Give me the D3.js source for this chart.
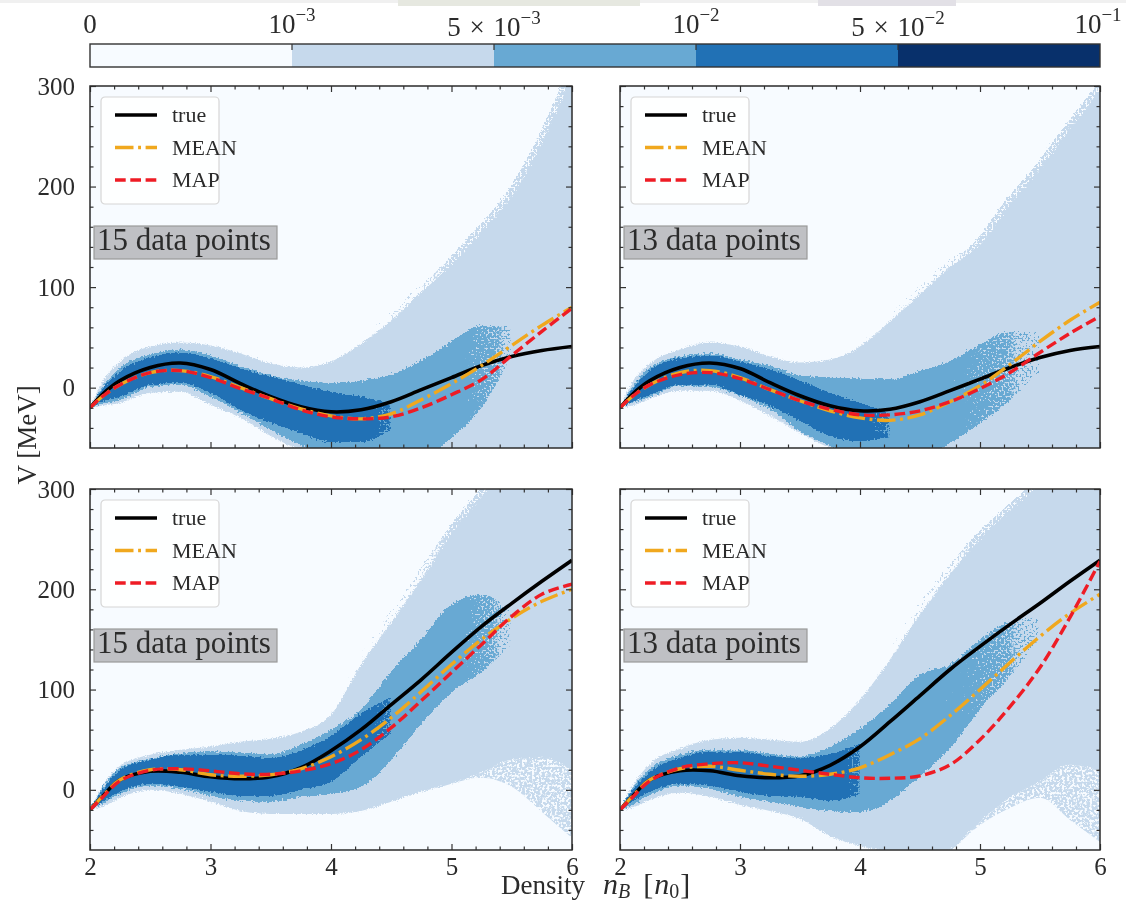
<!DOCTYPE html>
<html>
<head>
<meta charset="utf-8">
<script src="https://cdn.jsdelivr.net/npm/d3@7"></script>
<style>
  html, body { margin: 0; padding: 0; background: #fff; }
  svg { display: block; filter: blur(0.5px); }
  text { font-family: "Liberation Serif", serif; fill: #2b2b2b; }
</style>
</head>
<body>
<script>
'use strict';

const densityGrid = [2, 2.1, 2.25, 2.5, 2.75, 3, 3.25, 3.5, 3.75, 4, 4.25, 4.5, 4.75, 5, 5.25, 5.5, 5.75, 6];
const xMajor = [2, 3, 4, 5, 6];
const yMajor = [0, 100, 200, 300];
const xMinor = d3.range(2, 6.01, 0.2).map(v => +v.toFixed(1)).filter(v => !xMajor.includes(v));
const yMinor = d3.range(-40, 300, 20).filter(v => !yMajor.includes(v));

const levelColors = ['#f7fbff', '#c6d9ec', '#68a9d3', '#2171b5', '#08306b'];

// upper left, 15 data points
const tlTrue = [-20, -7, 7, 20, 24.5, 18, 4, -9, -19, -24, -22, -14, -2, 10, 22, 31, 37, 41];
const tlMean = [-20, -9, 3, 15, 17, 11, 0, -11, -21, -28, -31, -26, -12, 4, 22, 42, 62, 80];
const tlMap = [-20, -9, 3, 15, 17, 10, -1, -11, -22, -29, -31, -29, -20, -7, 8, 32, 56, 79];
const tlLightTop = [-20, 5, 26, 41, 45, 42, 34, 24, 20, 26, 44, 67, 95, 122, 155, 190, 243, 330];
const tlLightLow = [-20, -18, -15, -5, -4, -17, -30, -48, -62, -70, -70, -70, -70, -70, -70, -70, -70, -70];
const tlMidTop = [-20, 0, 20, 33, 38, 32, 21, 12, 7, 5, 7, 13, 27, 46, 62, 60, null, null];
const tlMidLow = [-20, -16, -12, 1, 3, -9, -25, -42, -57, -70, -70, -70, -70, -50, -20, 30, null, null];
const tlDarkTop = [-20, -2, 16, 30, 35, 29, 19, 11, 3, -4, -9, -15, null, null, null, null, null, null];
const tlDarkLow = [-20, -14, -9, 3, 5, -5, -22, -35, -45, -54, -54, -42, null, null, null, null, null, null];

// upper right, 13 data points
const trTrue = [-20, -7, 7, 20, 24.5, 19, 5, -8, -18, -23, -21.5, -14, -3, 8.5, 20, 30, 37, 41];
const trMean = [-20, -9, 3, 15, 17, 10, -2, -13, -23, -30, -32.5, -27, -14, 2, 23, 46, 67, 85];
const trMap = [-20, -9, 3, 13, 15, 9, -2, -13, -21.5, -27, -27, -23, -14, -1, 15, 35, 54, 71];
const trLightTop = [-20, 5, 24, 38, 45, 41, 31, 25, 28, 41, 66, 93, 120, 142, 182, 217, 257, 305];
const trLightLow = [-20, -18, -11, -3, -3, -13, -28, -45, -60, -70, -70, -70, -70, -70, -70, -70, -70, -70];
const trMidTop = [-20, 0, 20, 31, 34, 28, 21.5, 12, 10, 9, 8, 16.5, 26.5, 43, 56, 55, null, null];
const trMidLow = [-20, -15, -9, 2, 1, -8, -21.5, -43, -58, -70, -70, -70, -55, -36, -13, 15, null, null];
const trDarkTop = [-20, -2, 17, 29, 32, 26, 18, 7, -5, -15, -25, null, null, null, null, null, null, null];
const trDarkLow = [-20, -14, -7, 3, 3, -7, -18, -33, -48, -53, -50, null, null, null, null, null, null, null];

// lower left, 15 data points
const blTrue = [-20, -7, 10, 18.5, 17.5, 13, 11, 13, 22, 39, 60, 85, 110, 137, 163, 186, 208, 229];
const blMean = [-20, -7, 10, 20, 20, 15, 13.5, 15, 21, 33, 50, 72, 98, 125, 150, 171, 188, 200];
const blMap = [-20, -8, 9, 19.5, 21, 19, 16, 15.5, 19, 26, 40, 62, 89, 117, 145, 173, 195, 205];
const blLightTop = [-20, 3, 24, 35, 40, 43, 48, 51, 58, 75, 125, 167, 210, 255, 292, 330, 370, 410];
const blLightLow = [-20, -17, -8, 0, -4, -12, -21, -24, -24, -24, -21, -12, -2, 6, 17, 30, 32, 15];
const blSparseLow = [null, null, null, null, null, null, null, null, null, null, null, null, null, 6, 12, 3, -22, -55];
const blMidTop = [-20, 1, 22, 31, 36, 38.5, 37, 35.5, 45, 60, 80, 118, 150, 185, 195, 178, null, null];
const blMidLow = [-20, -14, -4, 4, 1, -6, -11, -12, -7, -4, 3, 30, 66, 97, 117, 145, null, null];
const blDarkTop = [-20, -1, 20, 30, 35, 35, 34, 32, 39, 54, 76, 93, null, null, null, null, null, null];
const blDarkLow = [-20, -12, -2, 6, 3, -2, -6, -6, 0, 8, 33, 56, null, null, null, null, null, null];

// lower right, 13 data points
const brTrue = [-20, -7, 10, 19, 19, 14, 12, 14, 24.5, 43, 68, 94, 120, 143, 165, 186, 208, 229];
const brMean = [-20, -7, 10, 21, 23.5, 19.5, 15.5, 13.5, 15.5, 22, 35, 51, 74, 100, 127, 153, 176, 195];
const brMap = [-20, -8, 9, 22, 26, 27, 23.5, 19.5, 15.5, 12, 11.5, 14, 25, 50, 83, 122, 172, 228];
const brLightTop = [-20, 3, 26, 41, 50, 52, 50, 48, 61, 90, 130, 175, 215, 250, 278, 305, 340, 380];
const brLightLow = [-20, -18, -10, -3, -7, -15, -21, -29, -46, -56, -62, -70, -60, -32, -8, 8, 25, 15];
const brSparseLow = [null, null, null, null, null, null, null, null, null, null, null, null, -62, -35, -18, -8, -30, -58];
const brMidTop = [-20, 1, 21, 35, 40, 40, 36, 33, 43, 61, 85, 115, 125, 150, 168, 172, null, null];
const brMidLow = [-20, -15, -5, 4, 1, -7, -12, -17, -21, -22, -11, 14, 41, 80, 112, 150, null, null];
const brDarkTop = [-20, -1, 18, 32, 38, 38, 33.5, 32, 36, 46, null, null, null, null, null, null, null, null];
const brDarkLow = [-20, -12, -2, 6, 4, -2, -6, -7, -11, -5, null, null, null, null, null, null, null, null];

const legendNames = ['true', 'MEAN', 'MAP'];
const lineColors = ['#000000', '#f0a81e', '#ee1c25'];
const lineWidths = [3.6, 3.4, 3.4];
const lineDashes = [null, '18.5,4.6,2.9,4.6', '10.7,4.6'];

const svg = d3.select('body').append('svg').attr('width', 1126).attr('height', 903);
const defs = svg.append('defs');

function newFilter(id) {
  return defs.append('filter').attr('id', id)
    .attr('x', '-3%').attr('y', '-3%').attr('width', '106%').attr('height', '106%')
    .attr('color-interpolation-filters', 'sRGB');
}

function addGrain(id, scale, seed) {
  let f = newFilter(id);
  f.append('feTurbulence').attr('type', 'fractalNoise').attr('baseFrequency', 0.8)
    .attr('numOctaves', 1).attr('seed', seed).attr('result', 'noise');
  f.append('feDisplacementMap').attr('in', 'SourceGraphic').attr('in2', 'noise')
    .attr('scale', scale).attr('xChannelSelector', 'R').attr('yChannelSelector', 'G');
}
addGrain('grainLight', 5, 3);

// holes come from thresholded noise
function addSpeckle(id, freq, gain, offset, seed) {
  let f = newFilter(id);
  f.append('feTurbulence').attr('type', 'fractalNoise').attr('baseFrequency', freq)
    .attr('numOctaves', 2).attr('seed', seed).attr('result', 'noise');
  f.append('feColorMatrix').attr('in', 'noise').attr('type', 'matrix')
    .attr('values', '0 0 0 0 0  0 0 0 0 0  0 0 0 0 0  ' + gain + ' 0 0 0 ' + offset).attr('result', 'mask');
  f.append('feComposite').attr('in', 'SourceGraphic').attr('in2', 'mask').attr('operator', 'in');
}
addSpeckle('speckleLight', 0.4, 9, -3.6, 5);

// the fill's opacity sets how much of the level survives the noise threshold
function addFade(id, color, scale, seed) {
  let f = newFilter(id);
  f.append('feTurbulence').attr('type', 'fractalNoise').attr('baseFrequency', 0.5)
    .attr('numOctaves', 2).attr('seed', seed).attr('result', 'noise');
  f.append('feDisplacementMap').attr('in', 'SourceGraphic').attr('in2', 'noise')
    .attr('scale', scale).attr('xChannelSelector', 'R').attr('yChannelSelector', 'G').attr('result', 'moved');
  f.append('feColorMatrix').attr('in', 'noise').attr('type', 'matrix')
    .attr('values', '0 0 0 0 0  0 0 0 0 0  0 0 0 0 0  1 0 0 0 0').attr('result', 'noiseAlpha');
  f.append('feComposite').attr('in', 'moved').attr('in2', 'noiseAlpha').attr('operator', 'arithmetic')
    .attr('k1', 0).attr('k2', 1).attr('k3', 1).attr('k4', 0).attr('result', 'sum');
  f.append('feComponentTransfer').attr('in', 'sum').attr('result', 'mask')
    .append('feFuncA').attr('type', 'linear').attr('slope', 25).attr('intercept', -23.75);
  f.append('feFlood').attr('flood-color', color).attr('result', 'paint');
  f.append('feComposite').attr('in', 'paint').attr('in2', 'mask').attr('operator', 'in');
}
addFade('fadeFringe', levelColors[1], 3, 13);
addFade('fadeMid', levelColors[2], 6, 7);
addFade('fadeDark', levelColors[3], 4, 11);

function addGradient(id, x0, x1, firstOpacity, lastOpacity) {
  let grad = defs.append('linearGradient').attr('id', id)
    .attr('gradientUnits', 'userSpaceOnUse')
    .attr('x1', x0).attr('x2', x1).attr('y1', 0).attr('y2', 0);
  grad.append('stop').attr('offset', 0).attr('stop-color', '#000').attr('stop-opacity', firstOpacity);
  grad.append('stop').attr('offset', 1).attr('stop-color', '#000').attr('stop-opacity', lastOpacity);
}

// scan residue along the top edge of the page
svg.append('rect').attr('width', 1126).attr('height', 3).attr('fill', '#f0f0f0');
svg.append('rect').attr('x', 398).attr('width', 242).attr('height', 6).attr('fill', '#e6e8e0');
svg.append('rect').attr('x', 818).attr('width', 138).attr('height', 6).attr('fill', '#e2e0e6');

drawColorbar();

const panels = [
  { left: 90, right: 572, top: 86, bottom: 448, count: '15 data points', leftAxis: true, bottomAxis: false,
    midFade: [4.8, 5.6], darkFade: [4.2, 4.55],
    tr: tlTrue, mean: tlMean, map: tlMap, lt: tlLightTop, ll: tlLightLow, mt: tlMidTop, ml: tlMidLow, dt: tlDarkTop, dl: tlDarkLow },
  { left: 620, right: 1100, top: 86, bottom: 448, count: '13 data points', leftAxis: false, bottomAxis: false,
    midFade: [4.4, 5.55], darkFade: [3.95, 4.3],
    tr: trTrue, mean: trMean, map: trMap, lt: trLightTop, ll: trLightLow, mt: trMidTop, ml: trMidLow, dt: trDarkTop, dl: trDarkLow },
  { left: 90, right: 572, top: 489, bottom: 850, count: '15 data points', leftAxis: true, bottomAxis: true, sparse: blSparseLow,
    midFade: [4.8, 5.55], darkFade: [4.2, 4.55],
    tr: blTrue, mean: blMean, map: blMap, lt: blLightTop, ll: blLightLow, mt: blMidTop, ml: blMidLow, dt: blDarkTop, dl: blDarkLow },
  { left: 620, right: 1100, top: 489, bottom: 850, count: '13 data points', leftAxis: false, bottomAxis: true, sparse: brSparseLow,
    midFade: [4.4, 5.55], darkFade: [3.75, 4.05],
    tr: brTrue, mean: brMean, map: brMap, lt: brLightTop, ll: brLightLow, mt: brMidTop, ml: brMidLow, dt: brDarkTop, dl: brDarkLow }
];
panels.forEach(drawPanel);

// shared axis titles
let xTitle = svg.append('text').attr('x', 501).attr('y', 894).style('font-size', '27px');
xTitle.append('tspan').text('Density');
xTitle.append('tspan').style('font-style', 'italic').style('font-size', '30px').attr('dx', 18).text('n');
xTitle.append('tspan').style('font-style', 'italic').style('font-size', '20px').attr('dy', 4).text('B');
xTitle.append('tspan').attr('dy', -4).attr('dx', 13).style('font-size', '30px').text('[');
xTitle.append('tspan').style('font-style', 'italic').style('font-size', '30px').attr('dx', 1).text('n');
xTitle.append('tspan').style('font-size', '20px').attr('dy', 4).text('0');
xTitle.append('tspan').attr('dy', -4).attr('dx', 1).style('font-size', '30px').text(']');

svg.append('text')
  .attr('transform', 'translate(36, 435)rotate(-90)')
  .attr('text-anchor', 'middle')
  .style('font-size', '27px')
  .text('V [MeV]');

function drawColorbar() {
  let boundaries = [0, 1, 2, 3, 4, 5];
  let x = d3.scaleLinear().domain([0, 5]).range([90, 1100]);
  let g = svg.append('g');
  g.selectAll('rect').data(levelColors).enter().append('rect')
    .attr('x', (d, i) => x(i)).attr('y', 44)
    .attr('width', (d, i) => x(i + 1) - x(i)).attr('height', 23)
    .attr('fill', d => d);
  g.append('rect').attr('x', 90).attr('y', 44).attr('width', 1010).attr('height', 23)
    .attr('fill', 'none').attr('stroke', '#333').attr('stroke-width', 1.4);
  g.selectAll('line').data(boundaries.slice(1, 5)).enter().append('line')
    .attr('x1', d => x(d)).attr('x2', d => x(d)).attr('y1', 44).attr('y2', 50)
    .attr('stroke', '#333').attr('stroke-width', 1.2);

  let labels = [
    { base: '0', baseline: 33 },
    { base: '10', exp: '\u22123', baseline: 33 },
    { base: '5 \u00d7 10', exp: '\u22123', baseline: 35.5 },
    { base: '10', exp: '\u22122', baseline: 33 },
    { base: '5 \u00d7 10', exp: '\u22122', baseline: 35.5 },
    { base: '10', exp: '\u22121', baseline: 33 }
  ];
  labels.forEach((l, i) => {
    let t = svg.append('text').attr('x', Math.min(x(boundaries[i]), 1098)).attr('y', l.baseline)
      .attr('text-anchor', 'middle').style('font-size', '27px').style('word-spacing', '2px');
    t.append('tspan').text(l.base);
    if (l.exp) {
      t.append('tspan').attr('dy', -12).style('font-size', '19px').text(l.exp);
    }
  });
}

function drawPanel(p, idx) {
  let x = d3.scaleLinear().domain([2, 6]).range([p.left, p.right]);
  let y = d3.scaleLinear().domain([-60, 300]).range([p.bottom, p.top]);
  let last = densityGrid.length - 1;
  let xAt = i => i === last ? x(densityGrid[i]) + 8 : x(densityGrid[i]);
  let idxs = d3.range(densityGrid.length);

  let clipId = 'clip' + idx;
  defs.append('clipPath').attr('id', clipId).append('rect')
    .attr('x', p.left).attr('y', p.top)
    .attr('width', p.right - p.left).attr('height', p.bottom - p.top);
  addGradient('fringeOpacity' + idx, x(3.8), x(5), 0, 0.5);
  addGradient('midOpacity' + idx, x(p.midFade[0]), x(p.midFade[1]), 1, 0.3);
  addGradient('darkOpacity' + idx, x(p.darkFade[0]), x(p.darkFade[1]), 1, 0.35);

  let g = svg.append('g');
  let plot = g.append('g').attr('clip-path', 'url(#' + clipId + ')');
  plot.append('rect').attr('x', p.left).attr('y', p.top)
    .attr('width', p.right - p.left).attr('height', p.bottom - p.top)
    .attr('fill', levelColors[0]);

  function bandPath(top, low) {
    return d3.area()
      .defined(i => top[i] !== null && low[i] !== null)
      .x(xAt)
      .y0(i => y(low[i]))
      .y1(i => y(top[i]))
      .curve(d3.curveMonotoneX)(idxs);
  }

  // sparse upper-left fringe of the light level, thickens with density
  plot.append('g').attr('transform', 'translate(-6,-3)')
    .append('path').attr('d', bandPath(p.lt, p.ll))
    .attr('fill', 'url(#fringeOpacity' + idx + ')').attr('filter', 'url(#fadeFringe)');
  if (p.sparse) {
    plot.append('path').attr('d', bandPath(p.ll, p.sparse))
      .attr('fill', levelColors[1]).attr('filter', 'url(#speckleLight)');
  }
  plot.append('path').attr('d', bandPath(p.lt, p.ll))
    .attr('fill', levelColors[1]).attr('filter', 'url(#grainLight)');

  plot.append('path').attr('d', bandPath(p.mt, p.ml))
    .attr('fill', 'url(#midOpacity' + idx + ')').attr('filter', 'url(#fadeMid)');
  plot.append('path').attr('d', bandPath(p.dt, p.dl))
    .attr('fill', 'url(#darkOpacity' + idx + ')').attr('filter', 'url(#fadeDark)');

  [p.tr, p.mean, p.map].forEach((series, k) => {
    let line = d3.line()
      .x(i => x(densityGrid[i]))
      .y(i => y(series[i]))
      .curve(d3.curveCatmullRom.alpha(0.5));
    plot.append('path').attr('d', line(idxs))
      .attr('fill', 'none')
      .attr('stroke', lineColors[k])
      .attr('stroke-width', lineWidths[k])
      .attr('stroke-dasharray', lineDashes[k]);
  });

  // inward ticks on all four sides
  drawTicks(g, d3.axisBottom(x), xMajor, 6, [0, p.bottom]);
  drawTicks(g, d3.axisBottom(x), xMinor, 3.5, [0, p.bottom]);
  drawTicks(g, d3.axisTop(x), xMajor, 6, [0, p.top]);
  drawTicks(g, d3.axisTop(x), xMinor, 3.5, [0, p.top]);
  drawTicks(g, d3.axisLeft(y), yMajor, 6, [p.left, 0]);
  drawTicks(g, d3.axisLeft(y), yMinor, 3.5, [p.left, 0]);
  drawTicks(g, d3.axisRight(y), yMajor, 6, [p.right, 0]);
  drawTicks(g, d3.axisRight(y), yMinor, 3.5, [p.right, 0]);

  g.append('rect').attr('x', p.left).attr('y', p.top)
    .attr('width', p.right - p.left).attr('height', p.bottom - p.top)
    .attr('fill', 'none').attr('stroke', '#2b2b2b').attr('stroke-width', 1.5);

  if (p.bottomAxis) {
    let ax = g.append('g').attr('transform', 'translate(0,' + p.bottom + ')')
      .call(d3.axisBottom(x).tickValues(xMajor).tickSize(0).tickPadding(7).tickFormat(d3.format('d')));
    ax.select('.domain').remove();
    ax.selectAll('text').style('font-size', '25px').style('font-family', null).attr('fill', null);
  }
  if (p.leftAxis) {
    let ay = g.append('g').attr('transform', 'translate(' + p.left + ',0)')
      .call(d3.axisLeft(y).tickValues(yMajor).tickSize(0).tickPadding(15).tickFormat(d3.format('d')));
    ay.select('.domain').remove();
    ay.selectAll('text').style('font-size', '25px').style('font-family', null).attr('fill', null);
  }

  // legend
  let lx = p.left + 11, ly = p.top + 11;
  let legend = g.append('g').attr('transform', 'translate(' + lx + ',' + ly + ')');
  legend.append('rect').attr('width', 118).attr('height', 107).attr('rx', 4)
    .attr('fill', '#fff').attr('fill-opacity', 0.85)
    .attr('stroke', '#d6d6d6').attr('stroke-width', 1.2);
  legendNames.forEach((name, k) => {
    let rowY = 18 + k * 32.5;
    legend.append('line').attr('x1', 14).attr('x2', 56).attr('y1', rowY).attr('y2', rowY)
      .attr('stroke', lineColors[k]).attr('stroke-width', lineWidths[k])
      .attr('stroke-dasharray', lineDashes[k]);
    legend.append('text').attr('x', 71).attr('y', rowY + 7)
      .style('font-size', '22px').text(name);
  });

  // data point count tag
  let tagX = p.left + 4, tagY = p.top + 140;
  g.append('rect').attr('x', tagX).attr('y', tagY).attr('width', 183).attr('height', 33)
    .attr('fill', '#bfc0c4').attr('stroke', '#9a9a9a').attr('stroke-width', 1.2);
  g.append('text').attr('x', tagX + 3).attr('y', tagY + 24)
    .style('font-size', '31px').text(p.count);
}

function drawTicks(g, axis, values, size, pos) {
  let a = g.append('g').attr('transform', 'translate(' + pos[0] + ',' + pos[1] + ')')
    .call(axis.tickValues(values).tickSize(-size).tickFormat(''));
  a.select('.domain').remove();
  a.selectAll('line').attr('stroke', '#333').attr('stroke-width', 1.2);
}
</script>
</body>
</html>
